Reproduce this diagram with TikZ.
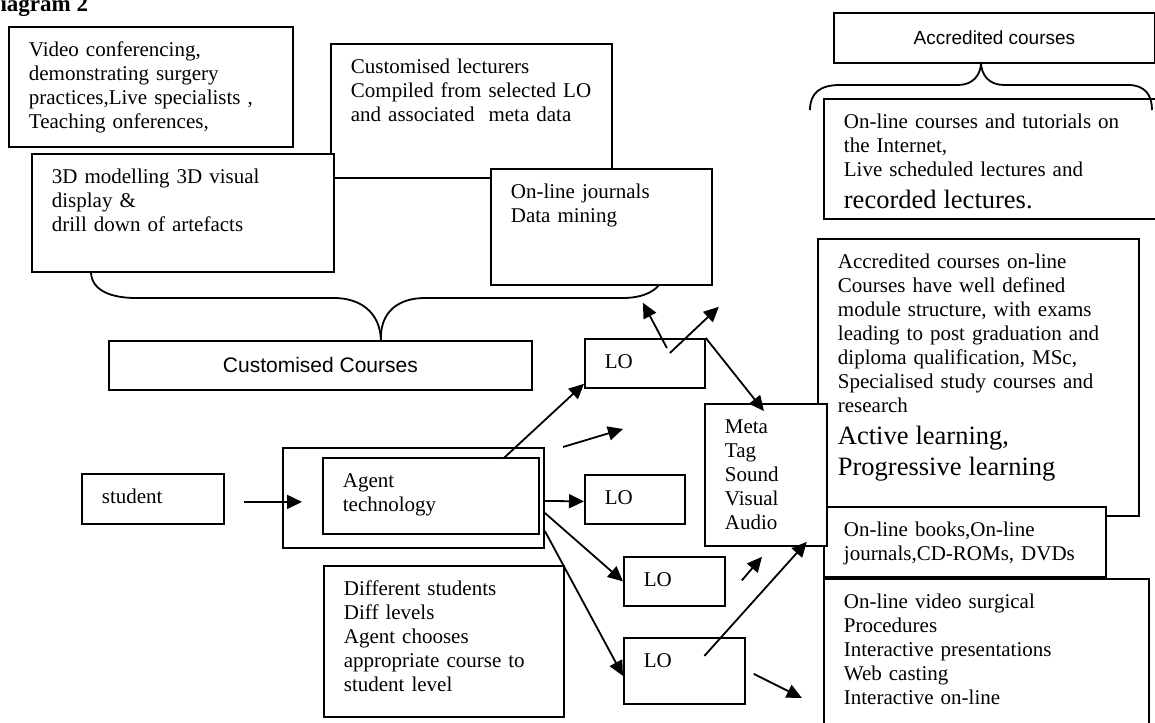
\documentclass[tikz,border=0pt]{standalone}
\usepackage{fontspec}
\setmainfont{Liberation Serif}
\newfontfamily\arialfont{Liberation Sans}
\usetikzlibrary{arrows.meta,calc}

\begin{document}
\begin{tikzpicture}[x=0.5pt,y=-0.5pt,line width=0.9pt]
\tikzstyle{box}=[draw,fill=white,anchor=north west,align=left,inner xsep=10pt,inner ysep=6pt,text height=9pt,font=\fontsize{10.5}{12}\selectfont]
\tikzstyle{sbox}=[draw,fill=white,anchor=north west,inner sep=0pt,font=\arialfont\fontsize{10.5}{12}\selectfont]
\tikzstyle{arr}=[-{Triangle[length=7.5pt,width=7pt]}]
\useasboundingbox (0,0) rectangle (1155,722);

\node (title) [anchor=base west,inner sep=0pt,font=\bfseries\fontsize{11.5}{13}\selectfont] at (-17,12) {Diagram 2};

% customised courses
\draw (8,26) node (vid) [box,text width=122pt,text depth=39pt] {Video conferencing,\\ demonstrating surgery\\ practices,Live specialists ,\\ Teaching onferences,};
\draw (330,43) node (lect) [box,text width=120.5pt,text depth=46pt] {Customised lecturers\\ Compiled from selected LO\\ and associated~ meta data};
\draw (31,153) node (model) [box,text width=131pt,text depth=38pt] {3D modelling 3D visual\\ display \&\\ drill down of artefacts};
\draw (490,168) node (jour) [box,text width=90.5pt,text depth=37pt] {On-line journals\\ Data mining};
\draw (108,340) node (custom) [sbox,minimum width=211.5pt,minimum height=24.5pt] {Customised Courses};
\coordinate (ctip) at ($(custom.north)+(60.5,0)$);
\draw ($(model.south west)+(60,0)$) .. controls (92,291) and (112,298) .. (136,298) -- (334,298) .. controls (360,298) and (380,312) .. (ctip);
\draw (ctip) .. controls (380,312) and (398,298) .. (425,298) -- (623,298) .. controls (640,298) and (652,293) .. ($(jour.south)+(57,0)$);

% accredited courses
\draw (833,12) node (accr) [sbox,minimum width=160.5pt,minimum height=25pt,font=\arialfont\fontsize{9.5}{12}\selectfont] {Accredited courses};
\draw (823,98) node (onl) [box,text width=150pt,text depth=39pt] {On-line courses and tutorials on\\ the Internet,\\ Live scheduled lectures and\\ {\fontsize{13.25}{16}\selectfont recorded lectures.\par}};
\coordinate (atip) at (981,62);
\draw (810,110) .. controls (810,93) and (820,85) .. (840,85) -- (958,85) .. controls (973,85) and (981,75) .. (atip);
\draw (atip) .. controls (981,75) and (989,85) .. (1004,85) -- (1128,85) .. controls (1145,85) and (1152,95) .. (1152,110);
\draw (817,238) node (accbig) [box,text width=140.5pt,text depth=117.5pt] {Accredited courses on-line\\ Courses have well defined\\ module structure, with exams\\ leading to post graduation and\\ diploma qualification, MSc,\\ Specialised study courses and\\ research\\ {\fontsize{13.25}{15.75}\selectfont Active learning,\\ Progressive learning\par}};
\draw (823,506) node (books) [box,text width=121pt,text depth=14pt] {On-line books,On-line\\ journals,CD-ROMs, DVDs};
\draw (704,403) node (meta) [box,text width=41pt,text depth=50pt] {Meta\\ Tag\\ Sound\\ Visual\\ Audio};
\draw (823,578) node (surg) [box,text width=142.5pt,text depth=64pt] {On-line video surgical\\ Procedures\\ Interactive presentations\\ Web casting\\ Interactive on-line};

% student and agent
\draw (81,473) node (student) [box,text width=51pt,text depth=4pt] {student};
\draw (282,447) node (agentout) [draw,fill=white,anchor=north west,inner sep=0pt,minimum width=130.5pt,minimum height=50pt] {};
\draw (322,457) node (agent) [box,text width=88pt,text depth=17pt] {Agent\\ technology};
\draw (323,565) node (diff) [box,text width=100pt,text depth=54.5pt] {Different students\\ Diff levels\\ Agent chooses\\ appropriate course to\\ student level};

% learning objects
\draw (584,338) node (lo1) [box,text width=40pt,text depth=3.5pt] {LO};
\draw (584,474) node (lo2) [box,text width=30pt,text depth=3.5pt] {LO};
\draw (623,556) node (lo3) [box,text width=30.5pt,text depth=3.5pt] {LO};
\draw (623,637) node (lo4) [box,text width=40.5pt,text depth=12pt] {LO};

% arrows
\draw[arr] ($(student.east)+(19,3)$) -- ($(agentout.west)+(20,4)$);
\draw[arr] ($(agent.north)+(73,1)$) -- ($(lo1.south west)+(0,-5)$);
\coordinate (fa) at (563,447);
\coordinate (fb) at (623,429);
\draw[arr] (fa) -- (fb);
\draw[arr] ($(agentout.east)+(0,3)$) -- ($(lo2.west)+(0,2)$);
\draw[arr] ($(agentout.east)+(0,15)$) -- (lo3.west);
\draw[arr] ($(agentout.east)+(0,33)$) -- ($(lo4.west)+(0,5)$);
\draw[arr] (lo1.north east) -- ($(meta.north)+(-2,8)$);
\draw[arr] ($(lo1.north)+(22,10)$) -- ($(jour.south)+(41.5,17)$);
\draw[arr] ($(lo1.north)+(25,15)$) -- ($(jour.south east)+(6,21)$);
\draw[arr] ($(lo3.east)+(16,-1)$) -- ($(meta.south west)+(58,10)$);
\draw[arr] ($(lo4.center)+(20,-15)$) -- ($(meta.south east)+(-21,-5)$);
\draw[arr] ($(lo4.east)+(8,3)$) -- ($(lo4.east)+(56,27)$);
\end{tikzpicture}
\end{document}
